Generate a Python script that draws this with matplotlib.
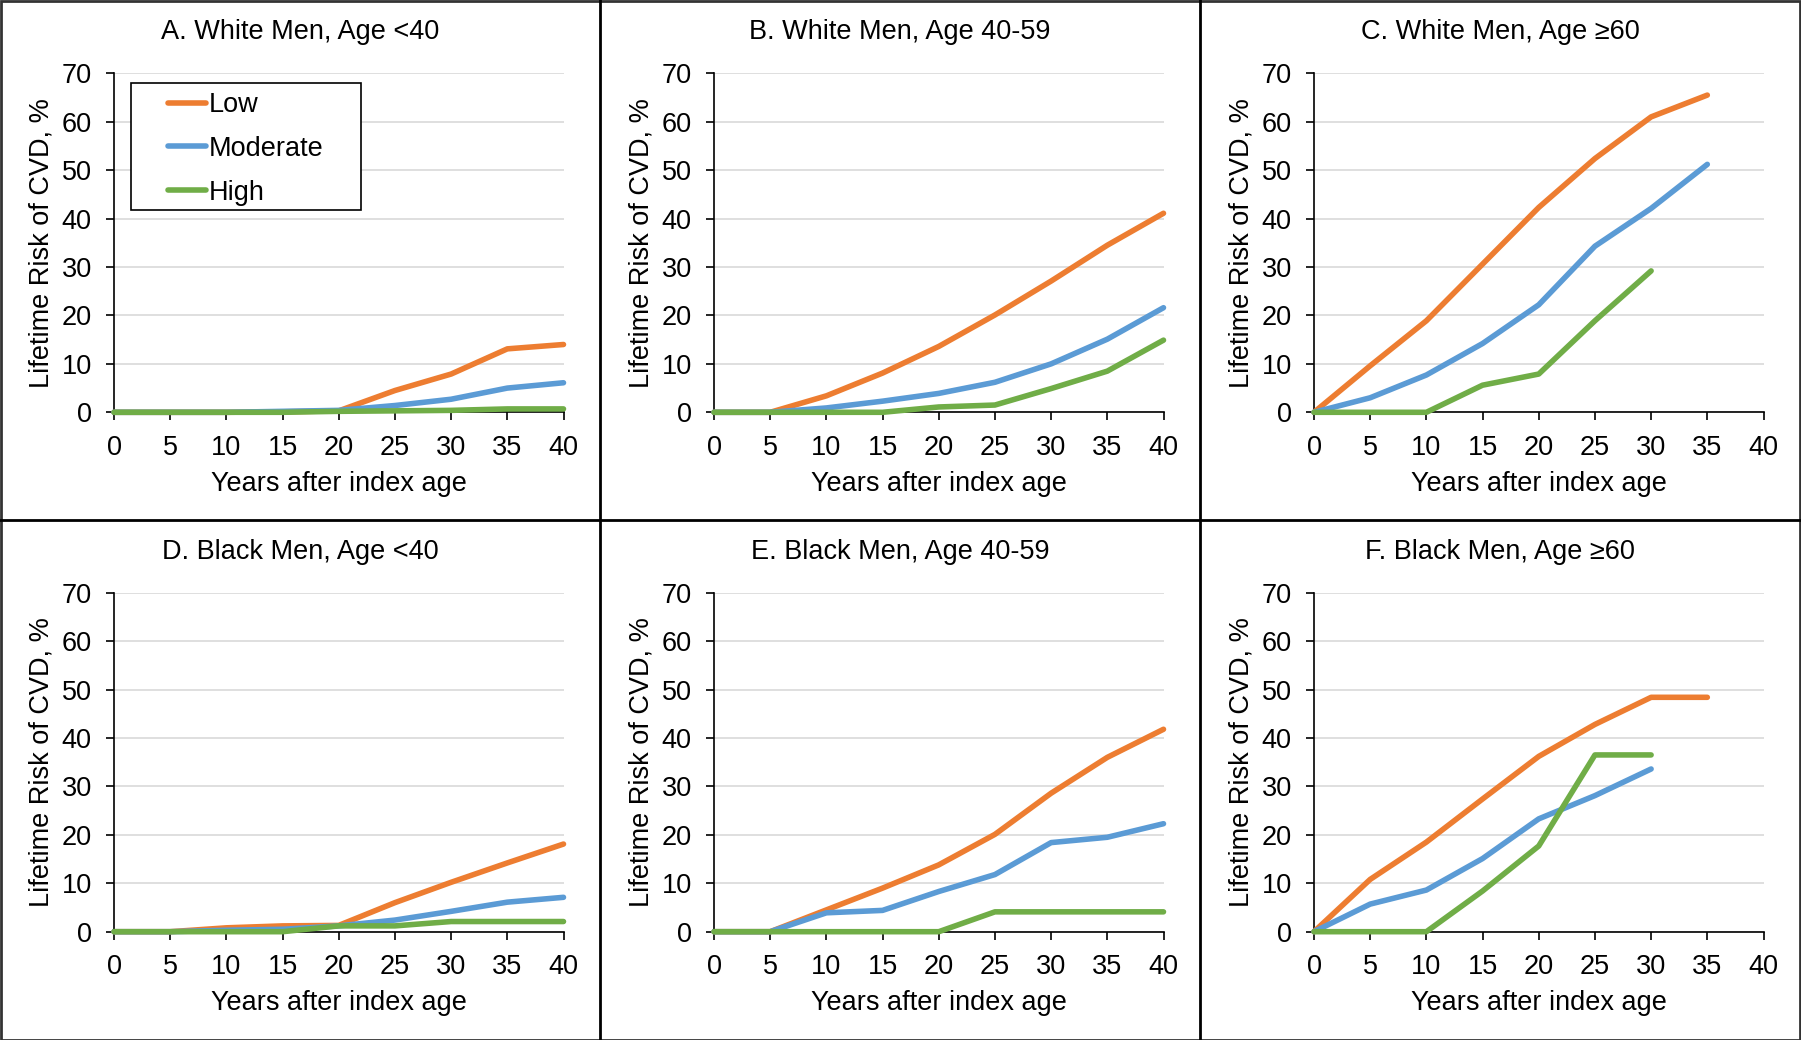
import matplotlib
matplotlib.use("Agg")
import matplotlib.pyplot as plt
from matplotlib.patches import Rectangle
from matplotlib.lines import Line2D

plt.rcParams['font.family'] = ['Liberation Sans', 'DejaVu Sans']

years = [0, 5, 10, 15, 20, 25, 30, 35, 40]
series_names = ["Low", "Moderate", "High"]
colors = ["#ED7D31", "#5B9BD5", "#70AD47"]

titles = ["A. White Men, Age <40", "B. White Men, Age 40-59", "C. White Men, Age \u226560",
          "D. Black Men, Age <40", "E. Black Men, Age 40-59", "F. Black Men, Age \u226560"]

# Panel values (risk %), per series: Low, Moderate, High
a_low = [0, 0, 0, 0.1, 0.3, 4.5, 7.9, 13.1, 14.0]
a_mod = [0, 0, 0, 0.2, 0.4, 1.4, 2.7, 5.0, 6.1]
a_high = [0, 0, 0, 0, 0.2, 0.3, 0.4, 0.7, 0.7]

b_low = [0, 0, 3.4, 8.1, 13.6, 20.1, 27.1, 34.5, 41.1]
b_mod = [0, 0, 0.9, 2.3, 3.9, 6.2, 10.0, 15.1, 21.6]
b_high = [0, 0, 0, 0, 1.1, 1.5, 4.9, 8.5, 14.9]

c_low = [0, 9.6, 18.9, 30.6, 42.3, 52.4, 61.0, 65.5]
c_mod = [0, 3.0, 7.7, 14.2, 22.2, 34.3, 42.1, 51.2]
c_high = [0, 0, 0, 5.6, 7.9, 18.9, 29.2]

d_low = [0, 0, 0.8, 1.2, 1.3, 6.0, 10.2, 14.2, 18.1]
d_mod = [0, 0, 0.3, 0.5, 1.2, 2.4, 4.2, 6.1, 7.1]
d_high = [0, 0, 0, 0, 1.2, 1.2, 2.1, 2.1, 2.1]

e_low = [0, 0, 4.5, 9.0, 13.8, 20.1, 28.6, 36.0, 41.8]
e_mod = [0, 0, 3.9, 4.4, 8.3, 11.8, 18.4, 19.5, 22.3]
e_high = [0, 0, 0, 0, 0, 4.1, 4.1, 4.1, 4.1]

f_low = [0, 10.8, 18.5, 27.4, 36.2, 42.8, 48.4, 48.4]
f_mod = [0, 5.7, 8.6, 15.1, 23.3, 28.1, 33.6]
f_high = [0, 0, 0, 8.4, 17.7, 36.5, 36.5]

panels = [
    (a_low, a_mod, a_high), (b_low, b_mod, b_high), (c_low, c_mod, c_high),
    (d_low, d_mod, d_high), (e_low, e_mod, e_high), (f_low, f_mod, f_high),
]

x_ticks = [0, 5, 10, 15, 20, 25, 30, 35, 40]
y_ticks = [0, 10, 20, 30, 40, 50, 60, 70]
xlabel = "Years after index age"
ylabel = "Lifetime Risk of CVD, %"

W, H = 1801, 1040
fig = plt.figure(figsize=(W / 100, H / 100), dpi=100)
fig.patch.set_facecolor("white")

col_left = [114.0, 714.0, 1314.0]
ax_w = 449.5
row_bottom = [412.3, 931.7]
ax_h = 339.0
FS = 19.5

for i, (vals, title) in enumerate(zip(panels, titles)):
    r, c = divmod(i, 3)
    l = col_left[c] / W
    b = (H - row_bottom[r]) / H
    ax = fig.add_axes([l, b, ax_w / W, ax_h / H])
    for name, col, yv in zip(series_names, colors, vals):
        ax.plot(years[:len(yv)], yv, color=col, lw=4.0, label=name,
                solid_capstyle='round', solid_joinstyle='round', zorder=3, clip_on=False)
    ax.set_xlim(0, 40)
    ax.set_ylim(0, 70)
    ax.set_xticks(x_ticks)
    ax.set_yticks(y_ticks)
    ax.yaxis.grid(True, color="#D9D9D9", lw=1.2)
    ax.set_axisbelow(True)
    for s in ["top", "right"]:
        ax.spines[s].set_visible(False)
    for s in ["left", "bottom"]:
        ax.spines[s].set_linewidth(1.2)
        ax.spines[s].set_color("black")
    ax.tick_params(axis="both", direction="out", length=6, width=1.2, labelsize=FS, colors="black")
    ax.tick_params(axis="x", pad=10)
    ax.tick_params(axis="y", pad=10)
    ax.set_xlabel(xlabel, fontsize=FS, labelpad=7.5)
    ax.set_ylabel(ylabel, fontsize=FS, labelpad=5)
    # Title centred over panel
    fig.text((c * 600 + 300) / W, 1 - (r * 520 + 32) / H, title, fontsize=FS,
             ha="center", va="center")
    if i == 0:
        x0, x1 = (131 - 114.0) / ax_w, (360.5 - 114.0) / ax_w
        y0, y1 = (412.3 - 210) / ax_h, (412.3 - 83.3) / ax_h
        ax.add_patch(Rectangle((x0, y0), x1 - x0, y1 - y0, transform=ax.transAxes,
                               fill=True, facecolor="white", edgecolor="black", lw=1.2, zorder=4))
        leg = ax.legend(loc="upper left", bbox_to_anchor=((168 - 114.0) / ax_w, (412.3 - 92) / ax_h),
                        frameon=False, fontsize=FS, handlelength=1.4, handletextpad=0.1,
                        borderpad=0, borderaxespad=0, labelspacing=0.66)
        leg.set_zorder(5)

# Panel separators and outer border
border = dict(color="black", lw=2, transform=fig.transFigure)
fig.add_artist(Line2D([600 / W, 600 / W], [0, 1], **border))
fig.add_artist(Line2D([1200 / W, 1200 / W], [0, 1], **border))
fig.add_artist(Line2D([0, 1], [1 - 519.5 / H, 1 - 519.5 / H], **border))
fig.add_artist(Rectangle((0.5 / W, 0.5 / H), 1 - 1.5 / W, 1 - 1.5 / H, transform=fig.transFigure,
                         fill=False, edgecolor="#333333", lw=2))

fig.savefig("out.png", dpi=100, facecolor="white")
